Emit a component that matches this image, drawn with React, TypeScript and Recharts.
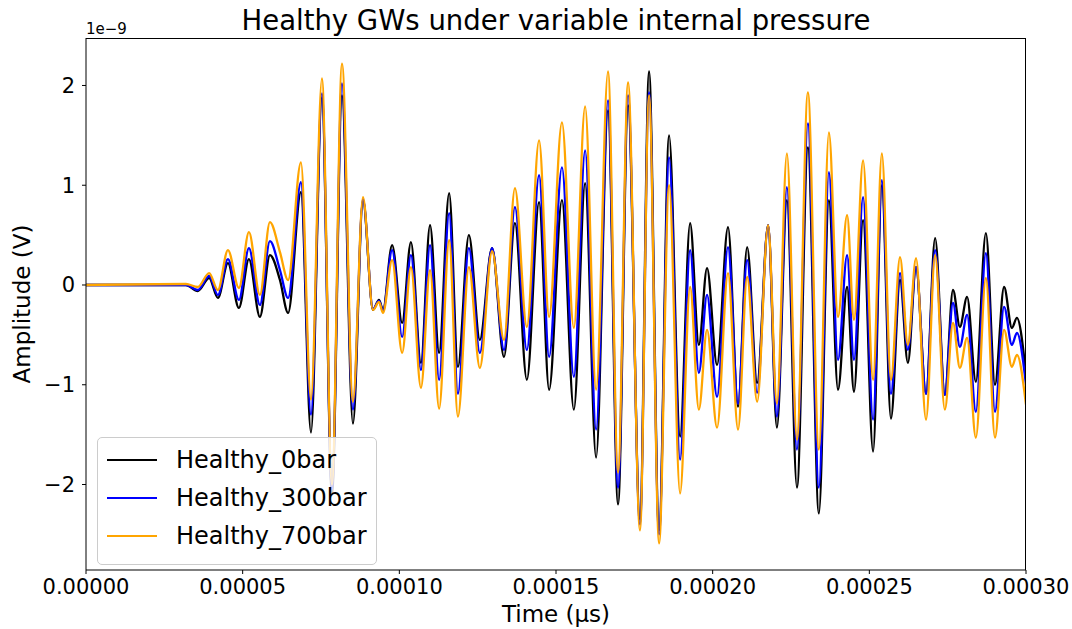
import React from "react";
import { LineChart, Line, XAxis, YAxis } from "recharts";

// sample times in units of 1e-5 s (extrema)
const TIME_E5 = [
  0, 3.19, 3.57, 3.93, 4.21, 4.53, 4.88, 5.2, 5.55, 5.87, 6.19, 6.45, 6.86, 7.18,
  7.53, 7.85, 8.17, 8.52, 8.84, 9.16, 9.35, 9.48, 9.77, 10.09, 10.37, 10.69,
  10.98, 11.27, 11.59, 11.87, 12.22, 12.57, 12.96, 13.34, 13.69, 14.07, 14.46,
  14.78, 15.19, 15.57, 15.93, 16.28, 16.66, 16.98, 17.3, 17.68, 17.97, 18.29,
  18.61, 18.96, 19.28, 19.56, 19.82, 20.14, 20.49, 20.81, 21.1, 21.42, 21.77,
  22.05, 22.37, 22.69, 23.04, 23.39, 23.71, 24.0, 24.29, 24.51, 24.8, 25.12,
  25.4, 25.69, 25.98, 26.23, 26.49, 26.81, 27.1, 27.41, 27.67, 27.89, 28.12,
  28.4, 28.72, 29.01, 29.3, 29.55, 29.71, 30.0,
];

// amplitudes in units of 1e-9 V
const HEALTHY_0 = [
  0, 0, -0.06, 0.07, -0.13, 0.22, -0.23, 0.26, -0.32, 0.3, 0.05, -0.28, 0.93,
  -1.48, 1.88, -2.1, 1.9, -1.39, 0.85, -0.25, -0.15, -0.25, 0.4, -0.38, 0.43,
  -0.78, 0.6, -0.68, 0.92, -0.82, 0.5, -0.55, 0.37, -0.72, 0.62, -0.95, 0.83,
  -1.05, 0.85, -1.25, 1.02, -1.73, 1.75, -2.2, 1.8, -2.35, 2.14, -2.46, 1.5,
  -1.52, 0.62, -0.6, 0.17, -0.8, 0.58, -1.22, 0.38, -0.98, 0.6, -1.43, 0.85,
  -2.03, 1.38, -2.29, 0.85, -1.05, -0.02, -1.07, 0.65, -1.67, 1.0, -1.34, 0.05,
  -0.78, 0.18, -1.09, 0.47, -1.1, -0.05, -0.42, -0.12, -0.97, 0.52, -1.0,
  -0.02, -0.43, -0.33, -0.9,
];
const HEALTHY_300 = [
  0, 0, -0.05, 0.09, -0.1, 0.26, -0.15, 0.37, -0.2, 0.44, 0.15, -0.13, 1.03,
  -1.3, 1.92, -2.05, 2.02, -1.25, 0.86, -0.24, -0.16, -0.26, 0.35, -0.52, 0.3,
  -0.85, 0.4, -0.95, 0.72, -1.09, 0.37, -0.68, 0.37, -0.65, 0.78, -0.65, 1.1,
  -0.72, 1.18, -0.92, 1.35, -1.45, 1.85, -2.03, 1.9, -2.4, 1.93, -2.5, 1.28,
  -1.75, 0.35, -0.88, -0.1, -1.12, 0.38, -1.19, 0.25, -1.08, 0.6, -1.32, 0.98,
  -1.65, 1.62, -2.03, 1.13, -0.75, 0.3, -0.75, 0.88, -1.35, 1.05, -1.09, 0.12,
  -0.65, 0.18, -1.09, 0.35, -1.1, -0.18, -0.62, -0.3, -1.27, 0.32, -1.27,
  -0.22, -0.6, -0.48, -1.0,
];
const HEALTHY_700 = [
  0, 0.01, -0.02, 0.12, -0.05, 0.35, -0.03, 0.53, -0.1, 0.63, 0.33, 0.05, 1.23,
  -1.15, 2.07, -2.0, 2.22, -1.17, 0.88, -0.25, -0.17, -0.28, 0.25, -0.68, 0.18,
  -1.03, 0.15, -1.24, 0.45, -1.32, 0.18, -0.83, 0.34, -0.55, 0.97, -0.42, 1.45,
  -0.32, 1.63, -0.43, 1.79, -1.05, 2.14, -1.88, 2.03, -2.46, 1.9, -2.59, 1.0,
  -2.09, -0.02, -1.25, -0.45, -1.43, 0.12, -1.45, 0.08, -1.17, 0.6, -1.19, 1.32,
  -1.55, 1.93, -1.65, 1.53, -0.32, 0.7, -0.35, 1.25, -0.95, 1.32, -0.95, 0.28,
  -0.6, 0.27, -1.35, 0.3, -1.25, -0.38, -0.83, -0.53, -1.53, 0.07, -1.53,
  -0.45, -0.82, -0.7, -1.2,
];

const X_TICKS = [0, 0.00005, 0.0001, 0.00015, 0.0002, 0.00025, 0.0003];
const Y_TICKS = [-2, -1, 0, 1, 2];
const NAMES = ["Healthy_0bar", "Healthy_300bar", "Healthy_700bar"];
const COLORS = ["#000000", "#0000ff", "#ffa500"];

const rows = TIME_E5.map((t, i) => ({
  t: t * 1e-5,
  h0: HEALTHY_0[i],
  h300: HEALTHY_300[i],
  h700: HEALTHY_700[i],
}));

const FONT = "'DejaVu Sans', sans-serif";
const tickStyle = { fill: "#000", fontSize: 21, fontFamily: FONT };

export default function App() {
  return (
    <div style={{ position: "relative", width: 1072, height: 629, background: "#fff", fontFamily: FONT }}>
      <style>{"body{margin:0}"}</style>
      <LineChart
        width={1072}
        height={629}
        data={rows}
        margin={{ top: 38, right: 46, bottom: 0, left: 0 }}
      >
        <XAxis
          dataKey="t"
          type="number"
          domain={[0, 0.0003]}
          ticks={X_TICKS}
          tickFormatter={(v: number) => v.toFixed(5)}
          tick={tickStyle}
          tickSize={4}
          tickMargin={5}
          height={59}
          stroke="#000"
          allowDataOverflow
        />
        <YAxis
          type="number"
          domain={[-2.857, 2.476]}
          ticks={Y_TICKS}
          tickFormatter={(v: number) => (v < 0 ? "\u2212" + Math.abs(v) : String(v))}
          tick={tickStyle}
          tickSize={4}
          tickMargin={7}
          width={86}
          stroke="#000"
          allowDataOverflow
        />
        <Line type="monotone" dataKey="h0" stroke={COLORS[0]} strokeWidth={2.3} dot={false} isAnimationActive={false} />
        <Line type="monotone" dataKey="h300" stroke={COLORS[1]} strokeWidth={2.3} dot={false} isAnimationActive={false} />
        <Line type="monotone" dataKey="h700" stroke={COLORS[2]} strokeWidth={2.3} dot={false} isAnimationActive={false} />
      </LineChart>

      {/* top and right spines */}
      <div
        style={{
          position: "absolute",
          left: 86,
          top: 38,
          width: 940,
          height: 532,
          boxSizing: "border-box",
          borderTop: "1px solid #000",
          borderRight: "1px solid #000",
          pointerEvents: "none",
        }}
      />

      <div style={{ position: "absolute", left: 0, width: 1112, top: 4, textAlign: "center", fontSize: 27.5, lineHeight: "32px" }}>
        Healthy GWs under variable internal pressure
      </div>
      <div style={{ position: "absolute", left: 86, top: 20, fontSize: 15, lineHeight: "18px" }}>1e{"\u2212"}9</div>
      <div style={{ position: "absolute", left: 0, width: 1112, top: 600, textAlign: "center", fontSize: 23, lineHeight: "28px" }}>
        Time (µs)
      </div>
      <div
        style={{
          position: "absolute",
          left: 22,
          top: 304,
          fontSize: 23,
          lineHeight: "28px",
          whiteSpace: "nowrap",
          transform: "translate(-50%, -50%) rotate(-90deg)",
        }}
      >
        Amplitude (V)
      </div>

      <div
        style={{
          position: "absolute",
          left: 97,
          top: 437,
          width: 280,
          height: 128,
          boxSizing: "border-box",
          border: "1px solid #cccccc",
          borderRadius: 5,
          background: "rgba(255,255,255,0.8)",
        }}
      >
        {NAMES.map((name, i) => (
          <div key={name} style={{ position: "absolute", left: 9, top: 7 + i * 38, height: 30, display: "flex", alignItems: "center" }}>
            <div style={{ width: 50, height: 2, background: COLORS[i] }} />
            <span style={{ marginLeft: 19, fontSize: 24, lineHeight: "30px" }}>{name}</span>
          </div>
        ))}
      </div>
    </div>
  );
}
